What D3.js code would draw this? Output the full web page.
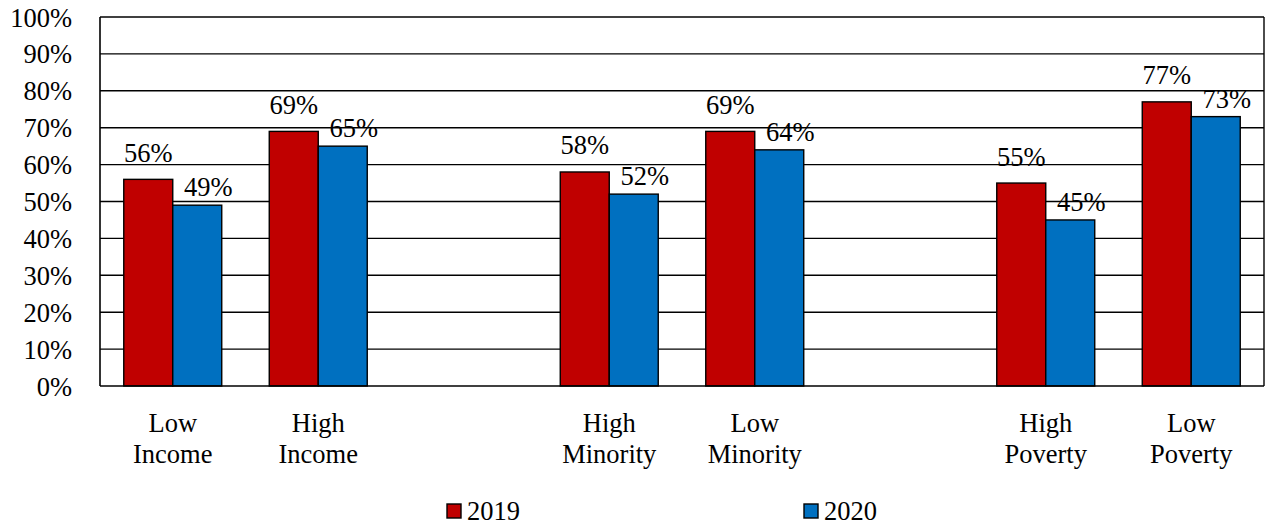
<!DOCTYPE html>
<html>
<head>
<meta charset="utf-8">
<script src="https://cdn.jsdelivr.net/npm/d3@7"></script>
<style>
  html, body { margin: 0; padding: 0; background: #fff; }
  svg { display: block; }
</style>
</head>
<body>
<svg id="chart" width="1265" height="527"></svg>
<script>
// Category slots along the x axis; empty strings are spacer slots between groups
const slots = ["Low Income", "High Income", "", "High Minority", "Low Minority", "", "High Poverty", "Low Poverty"];
const categories = ["Low Income", "High Income", "High Minority", "Low Minority", "High Poverty", "Low Poverty"];
const seriesNames = ["2019", "2020"];
const values2019 = [0.56, 0.69, 0.58, 0.69, 0.55, 0.77];
const values2020 = [0.49, 0.65, 0.52, 0.64, 0.45, 0.73];
const yTicks = [0, 0.1, 0.2, 0.3, 0.4, 0.5, 0.6, 0.7, 0.8, 0.9, 1.0];

const colors = { "2019": "#C00000", "2020": "#0070C0" };
const fontFamily = "'Times New Roman', Times, 'Liberation Serif', Tinos, 'Noto Serif', 'DejaVu Serif', FreeSerif, serif";
const fontSize = 26.5;

const svg = d3.select("#chart")
  .attr("font-family", fontFamily)
  .attr("font-size", fontSize);
const plotLeft = 100, plotRight = 1264, plotTop = 17, plotBottom = 386;

// Apply the text face directly on each text node
const serif = sel => sel.attr("font-family", fontFamily).attr("font-size", fontSize).attr("fill", "#000");

const x0 = d3.scaleBand()
  .domain(slots.map((s, i) => "s" + i))
  .range([plotLeft, plotRight])
  .paddingInner(0).paddingOuter(0);

const x1 = d3.scaleBand()
  .domain(seriesNames)
  .range([0, x0.bandwidth()])
  .paddingInner(0).paddingOuter(0.485);

const y = d3.scaleLinear().domain([0, 1]).range([plotBottom, plotTop]);

const slotKey = c => "s" + slots.indexOf(c);

// Horizontal gridlines (including the top border at 100%)
svg.append("g")
  .selectAll("line")
  .data(yTicks.filter(t => t > 0))
  .join("line")
  .attr("x1", plotLeft).attr("x2", plotRight)
  .attr("y1", d => y(d)).attr("y2", d => y(d))
  .attr("stroke", "#000").attr("stroke-width", 1.4);

// Right border of plot area
svg.append("line")
  .attr("x1", plotRight).attr("x2", plotRight)
  .attr("y1", plotTop).attr("y2", plotBottom)
  .attr("stroke", "#000").attr("stroke-width", 1.4);

// Y axis tick labels
const yAxis = d3.axisLeft(y).tickValues(yTicks).tickSize(0).tickPadding(0)
  .tickFormat(d3.format(".0%"));
const gy = svg.append("g").attr("transform", `translate(${plotLeft},0)`).call(yAxis);
gy.attr("font-family", fontFamily).attr("font-size", fontSize);
gy.select(".domain").remove();
gy.selectAll("text")
  .attr("x", -28)
  .attr("dy", null)
  .attr("y", 9)
  .call(serif);

// Bars
const rows = categories.map((c, i) => ({ cat: c, vals: [
  { s: "2019", v: values2019[i] },
  { s: "2020", v: values2020[i] }
]}));

const groups = svg.append("g").selectAll("g")
  .data(rows)
  .join("g")
  .attr("transform", d => `translate(${x0(slotKey(d.cat))},0)`);

groups.selectAll("rect")
  .data(d => d.vals)
  .join("rect")
  .attr("x", d => x1(d.s))
  .attr("width", x1.bandwidth())
  .attr("y", d => y(d.v))
  .attr("height", d => y(0) - y(d.v))
  .attr("fill", d => colors[d.s])
  .attr("stroke", "#000")
  .attr("stroke-width", 1.4);

// Value labels: 2019 centred above its bar, 2020 set slightly right and lower
const labelOffset = { "2019": { dx: 0, dy: -17.5 }, "2020": { dx: 11, dy: -9 } };
groups.selectAll("text.val")
  .data(d => d.vals)
  .join("text")
  .attr("class", "val")
  .attr("x", d => x1(d.s) + x1.bandwidth() / 2 + labelOffset[d.s].dx)
  .attr("y", d => y(d.v) + labelOffset[d.s].dy)
  .attr("text-anchor", "middle")
  .call(serif)
  .text(d => d3.format(".0%")(d.v));

// Left axis line and baseline
svg.append("line")
  .attr("x1", plotLeft).attr("x2", plotLeft).attr("y1", plotTop).attr("y2", plotBottom)
  .attr("stroke", "#000").attr("stroke-width", 1.6);
svg.append("line")
  .attr("x1", plotLeft).attr("x2", plotRight).attr("y1", plotBottom).attr("y2", plotBottom)
  .attr("stroke", "#000").attr("stroke-width", 1.6);

// Category labels on two lines
const catLabels = svg.append("g").selectAll("text")
  .data(categories)
  .join("text")
  .attr("text-anchor", "middle")
  .call(serif);
catLabels.each(function(d) {
  const cx = x0(slotKey(d)) + x0.bandwidth() / 2;
  const t = d3.select(this);
  d.split(" ").forEach((p, i) => {
    t.append("tspan")
      .attr("x", cx)
      .attr("y", 431.5 + i * 31.5)
      .text(p);
  });
});

// Legend
const legendX = [447, 804];
const legend = svg.append("g").selectAll("g")
  .data(seriesNames)
  .join("g")
  .attr("transform", (d, i) => `translate(${legendX[i]},504)`);
legend.append("rect")
  .attr("width", 14).attr("height", 14)
  .attr("fill", d => colors[d])
  .attr("stroke", "#000").attr("stroke-width", 1.4);
legend.append("text")
  .attr("x", 20).attr("y", 16)
  .call(serif)
  .text(d => d);
</script>
</body>
</html>
